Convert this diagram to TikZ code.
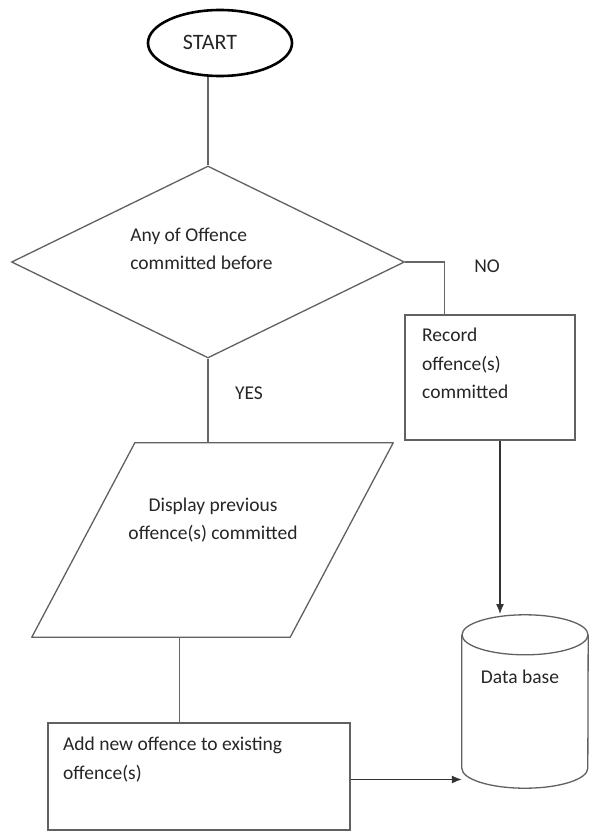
\documentclass[tikz,border=0pt]{standalone}
\usepackage{fontspec}
\setmainfont{Carlito}
\usetikzlibrary{shapes.geometric,arrows.meta,calc}
\begin{document}
\begin{tikzpicture}[x=1pt,y=-1pt,
  box/.style={draw=black!62,line width=1.3pt,rectangle,inner sep=0pt},
  lbl/.style={font=\fontsize{19.5}{28.5}\selectfont,text=black!85,inner sep=0pt},
  conn/.style={draw=black!60,line width=1.3pt},
  arr/.style={draw=black!80,line width=1.3pt,-{Latex[length=10pt,width=8pt]}}]
\fill[white] (0,0) rectangle (589,832);
\useasboundingbox (0,0) rectangle (589,832);
% start
\node[ellipse,draw=black,line width=2.6pt,minimum width=144pt,minimum height=66pt,inner sep=0pt] (start) at (220,43) {};
\node[lbl,font=\fontsize{22}{26}\selectfont] (starttxt) at (210,42) {START};
% decision
\node[diamond,draw=black!62,line width=1.3pt,minimum width=393pt,minimum height=192pt,inner sep=0pt] (dec) at (208,262) {};
\node[lbl,align=left] (dectxt) at (201.5,249) {Any of Offence\\committed before};
% record box
\node[box,minimum width=170pt,minimum height=125pt] (rec) at (490,377.5) {};
\node[lbl,align=left,anchor=north west] (rectxt) at (422,328) {Record\\offence(s)\\committed};
% parallelogram (frame node, outline drawn from its anchors)
\node[rectangle,minimum width=361pt,minimum height=194pt,inner sep=0pt] (para) at (212.5,540) {};
\draw[draw=black!62,line width=1.3pt,line join=round] ($(para.north west)+(103,0)$) -- (para.north east)
  -- ($(para.south east)+(-103,0)$) -- (para.south west) -- cycle;
\node[lbl,align=center] (paratxt) at (213,520) {Display previous\\offence(s) committed};
% add box
\node[box,minimum width=302pt,minimum height=107pt] (add) at (199,776.5) {};
\node[lbl,align=left,anchor=north west] (addtxt) at (63,737) {Add new offence to existing\\offence(s)};
% database (frame node, cylinder drawn from its anchors)
\node[rectangle,minimum width=126pt,minimum height=173pt,inner sep=0pt] (db) at (525,701.5) {};
\draw[draw=black!62,line width=1.3pt] ($(db.north)+(0,20)$) ellipse[x radius=63,y radius=20];
\draw[draw=black!62,line width=1.3pt] ($(db.north west)+(0,20)$) -- ($(db.south west)+(0,-20)$)
  arc[start angle=180,end angle=0,x radius=63,y radius=20] -- ($(db.north east)+(0,20)$);
\node[lbl] (dbtxt) at (520,677) {Data base};
% labels
\node[lbl] (no) at (487,266) {NO};
\node[lbl] (yes) at (249,393) {YES};
% coordinates
\coordinate (recin) at ($(rec.north west)+(40,0)$);
\coordinate (dbin) at (500,614);
\coordinate (dbleft) at ($(db.west)+(0,78)$);
\coordinate (pa) at ($(add.north west)+(132,0)$);
% connectors
\draw[conn] (dec.north |- start.south) -- (dec.north);
\draw[conn] (dec.east) -| (recin);
\draw[conn] (dec.south) -- (dec.south |- para.north);
\draw[conn] (pa |- para.south) -- (pa);
\draw[arr] (rec.south -| dbin) -- (dbin);
\draw[arr] (add.east |- dbleft) -- (dbleft);
\end{tikzpicture}
\end{document}
